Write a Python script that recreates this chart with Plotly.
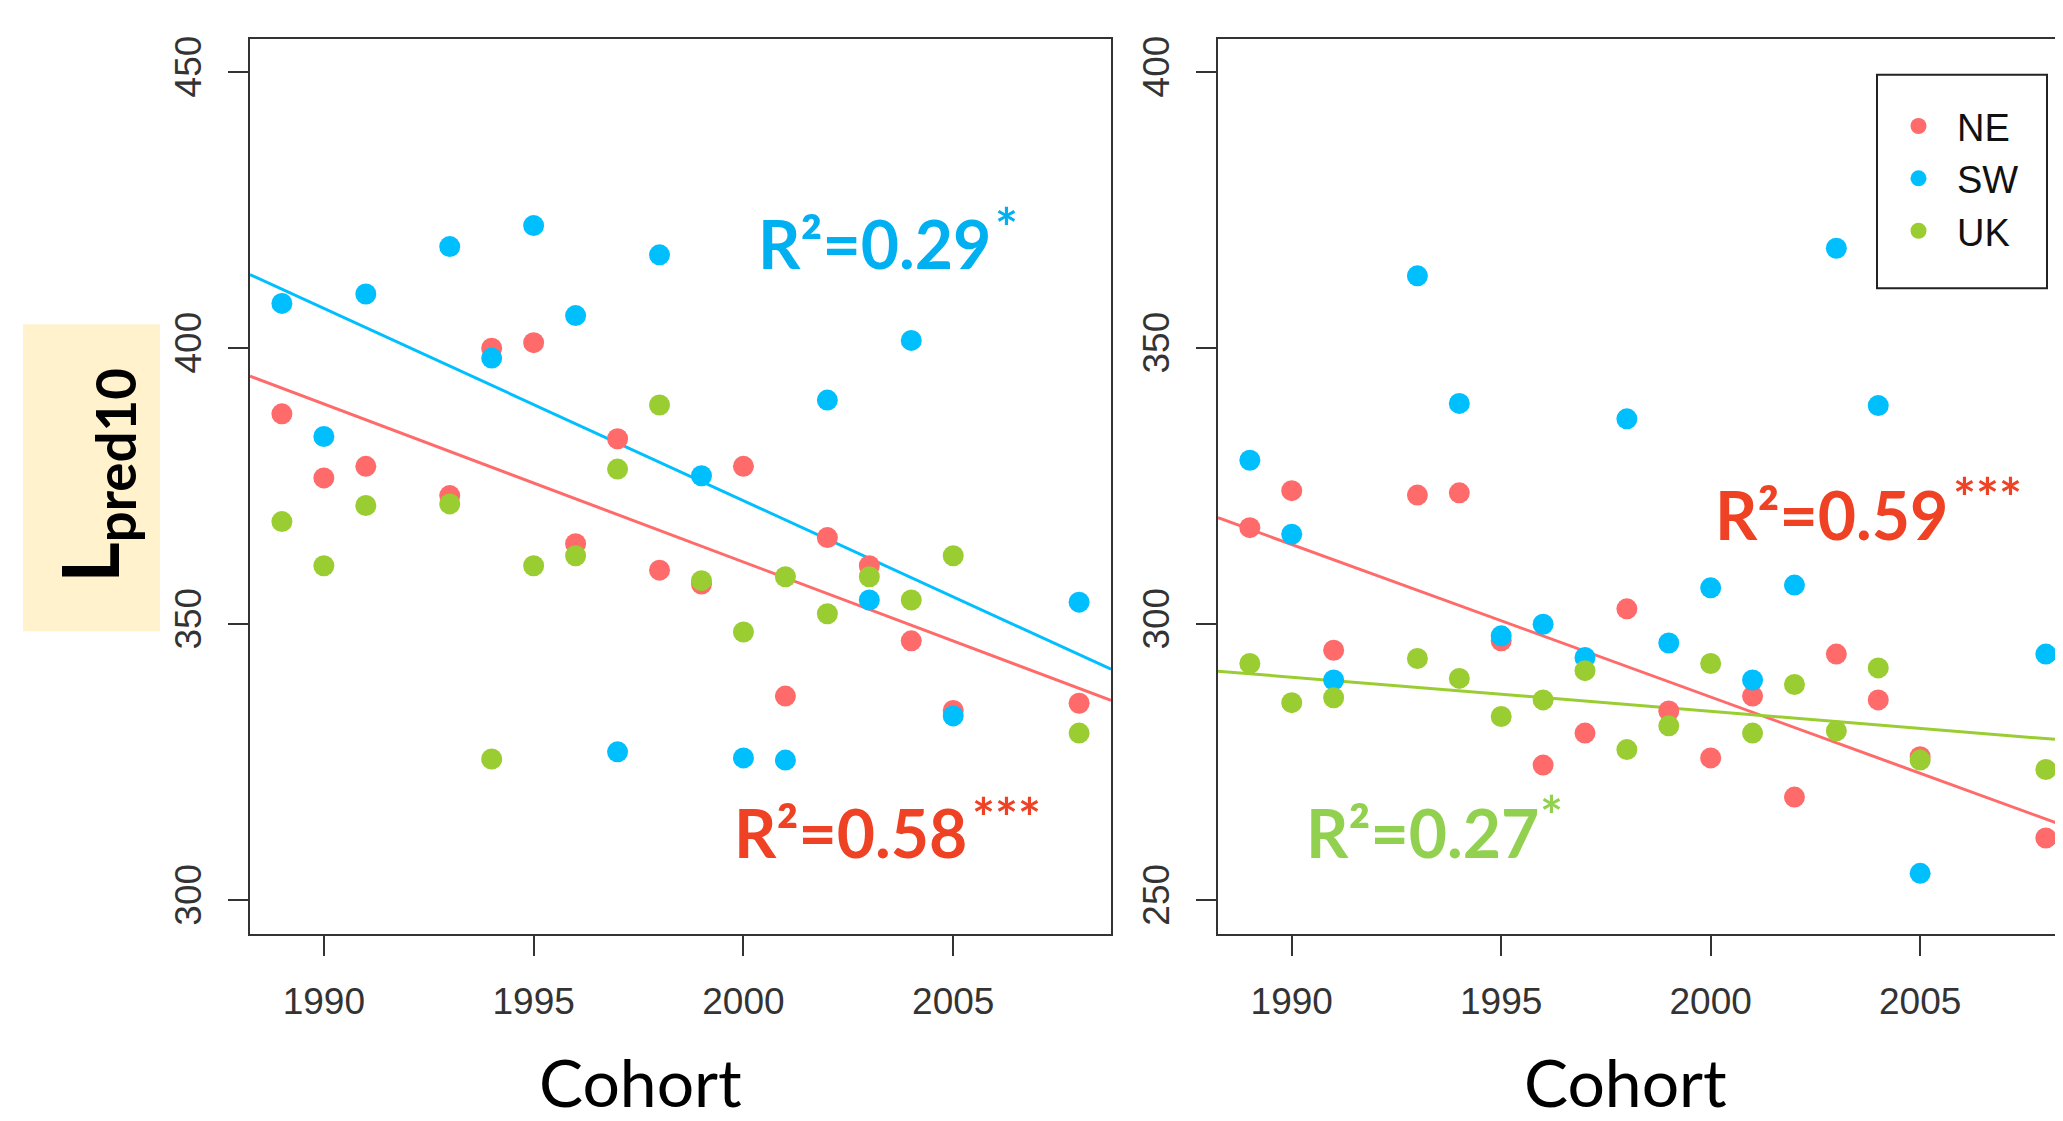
import numpy as np
import plotly.graph_objects as go

# The page body has an 8px default margin; the figure is sized so that it
# fills the 2063x1121 window from that offset.
OFF = 8
FW, FH = 2063 - OFF, 1121 - OFF

# ---------------- data ----------------
years = [1989, 1990, 1991, 1993, 1994, 1995, 1996, 1997, 1998, 1999,
         2000, 2001, 2002, 2003, 2004, 2005, 2008]

# left panel
left_NE = [388.1, 376.5, 378.6, 373.3, 400.0, 401.0, 364.6, 383.6, 359.8, 357.3,
           378.6, 337.0, 365.7, 360.6, 347.0, 334.4, 335.7]
left_SW = [408.1, 384.0, 409.8, 418.4, 398.2, 422.2, 405.9, 326.9, 416.9, 376.9,
           325.8, 325.4, 390.6, 354.4, 401.4, 333.4, 354.0]
left_UK = [368.6, 360.6, 371.5, 371.8, 325.6, 360.6, 362.4, 378.1, 389.7, 357.9,
           348.6, 358.6, 351.9, 358.6, 354.4, 362.4, 330.3]

# right panel
right_NE = [317.5, 324.2, 295.3, 323.4, 323.8, 297.0, 274.5, 280.3, 302.8, 284.3,
            275.8, 287.0, 268.7, 294.6, 286.3, 276.0, 261.3]
right_SW = [329.7, 316.3, 289.9, 363.1, 340.0, 297.9, 300.0, 294.0, 337.2, 296.6,
            306.6, 289.9, 307.1, 368.1, 339.6, 254.9, 294.6]
right_UK = [292.9, 285.8, 286.7, 293.8, 290.2, 283.3, 286.3, 291.6, 277.3, 281.6,
            292.9, 280.3, 289.1, 280.7, 292.1, 275.4, 273.7]

series_names = ["NE", "SW", "UK"]
x_ticks = [1990, 1995, 2000, 2005]
left_y_ticks = [300, 350, 400, 450]
right_y_ticks = [250, 300, 350, 400]

r2_labels = ["R²=0.29", "R²=0.58", "R²=0.59", "R²=0.27"]
r2_stars = ["*", "***", "***", "*"]

# ---------------- styles ----------------
COL = {"NE": "#FF6A6A", "SW": "#00BFFF", "UK": "#9ACD32"}
X_RANGE = [1988.24, 2008.76]
X2_RANGE = [1988.24, 2008.41]   # right panel is cut at the image edge
LEFT_Y_RANGE = [294, 456]
RIGHT_Y_RANGE = [244, 406]


def px_x(p):
    return (p - OFF) / FW


def px_y(p):
    return 1 - (p - OFF) / FH


fig = go.Figure()


def add_points(vals, name, xa, ya, show):
    fig.add_trace(go.Scatter(
        x=years, y=vals, mode="markers", name=name,
        marker=dict(color=COL[name], size=21, line=dict(width=0)),
        xaxis=xa, yaxis=ya, showlegend=show, legendgroup=name))


def add_fit(vals, name, xa, ya):
    slope, icpt = np.polyfit(years, vals, 1)
    xs = np.array(X_RANGE)
    fig.add_trace(go.Scatter(
        x=xs, y=icpt + slope * xs, mode="lines",
        line=dict(color=COL[name], width=3),
        xaxis=xa, yaxis=ya, showlegend=False, hoverinfo="skip"))


# left panel: fits for NE and SW
add_fit(left_NE, "NE", "x", "y")
add_fit(left_SW, "SW", "x", "y")
for nm, v in zip(series_names, [left_NE, left_SW, left_UK]):
    add_points(v, nm, "x", "y", False)

# right panel: fits for NE and UK
add_fit(right_NE, "NE", "x2", "y2")
add_fit(right_UK, "UK", "x2", "y2")
for nm, v in zip(series_names, [right_NE, right_SW, right_UK]):
    add_points(v, nm, "x2", "y2", True)

TICKFONT = dict(family="Liberation Sans, Arial, sans-serif", size=37, color="#333333")
ydom = [px_y(933), px_y(36)]

axis_common = dict(showgrid=False, zeroline=False, showline=True, linewidth=2,
                   linecolor="#333333", ticks="outside", ticklen=20, tickwidth=2,
                   tickcolor="#333333", tickfont=TICKFONT)

fig.update_layout(
    width=FW, height=FH,
    margin=dict(l=0, r=0, t=0, b=0),
    paper_bgcolor="white", plot_bgcolor="white",
    xaxis=dict(domain=[px_x(250), px_x(1111)], range=X_RANGE, tickvals=x_ticks,
               mirror=True, ticklabelstandoff=14, anchor="y", **axis_common),
    yaxis=dict(domain=ydom, range=LEFT_Y_RANGE, tickvals=left_y_ticks,
               tickangle=-90, mirror=True, ticklabelstandoff=12, anchor="x", **axis_common),
    xaxis2=dict(domain=[px_x(1218), 1.0], range=X2_RANGE, tickvals=x_ticks,
                mirror=True, ticklabelstandoff=14, anchor="y2", **axis_common),
    yaxis2=dict(domain=ydom, range=RIGHT_Y_RANGE, tickvals=right_y_ticks,
                tickangle=-90, mirror=False, ticklabelstandoff=12, anchor="x2", **axis_common),
    legend=dict(x=px_x(1880), y=px_y(92), xanchor="left", yanchor="top",
                bgcolor="rgba(0,0,0,0)", borderwidth=0, itemwidth=67,
                font=dict(family="Liberation Sans, Arial, sans-serif", size=38, color="#111111"),
                itemsizing="trace", tracegroupgap=0),
    showlegend=True,
)

# legend frame
fig.add_shape(type="rect", xref="paper", yref="paper",
              x0=px_x(1877), x1=px_x(2047), y0=px_y(286), y1=px_y(72),
              line=dict(color="#222222", width=2), fillcolor="rgba(0,0,0,0)")

# yellow label box
fig.add_shape(type="rect", xref="paper", yref="paper",
              x0=px_x(23), x1=px_x(160), y0=px_y(630), y1=px_y(322),
              line=dict(width=0), fillcolor="#FFF2CC", layer="below")

fig.add_annotation(xref="paper", yref="paper", x=px_x(95), y=px_y(474),
                   text="L<sub>pred10</sub>", textangle=-90, showarrow=False,
                   xanchor="center", yanchor="middle",
                   font=dict(family="Lato, sans-serif", size=78, color="black", weight="bold"))

# axis titles
for cx in [640, 1625]:
    fig.add_annotation(xref="paper", yref="paper", x=px_x(cx), y=px_y(1081),
                       text="Cohort", showarrow=False, xanchor="center", yanchor="middle",
                       font=dict(family="Lato, sans-serif", size=66, color="black"))

# R^2 labels: (text colour, left x, cap-centre y, star left x, star centre y)
R2_POS = [
    ("#00B0F0", 756, 243, 993, 222),
    ("#EF4123", 732, 834, 970, 814),
    ("#EF4123", 1713, 515, 1951, 493),
    ("#92D050", 1304, 834, 1538, 812),
]
for lab, star, (col, lx, cy, sx, sy) in zip(r2_labels, r2_stars, R2_POS):
    fig.add_annotation(xref="paper", yref="paper", x=px_x(lx), y=px_y(cy - 2),
                       text=lab, showarrow=False, xanchor="left", yanchor="middle",
                       font=dict(family="Lato, sans-serif", size=66, color=col, weight="bold"))
    fig.add_annotation(xref="paper", yref="paper", x=px_x(sx), y=px_y(sy + 2),
                       text=star, showarrow=False, xanchor="left", yanchor="middle",
                       font=dict(family="Lato, sans-serif", size=54, color=col, weight="bold"))

fig.write_html("out.html")
